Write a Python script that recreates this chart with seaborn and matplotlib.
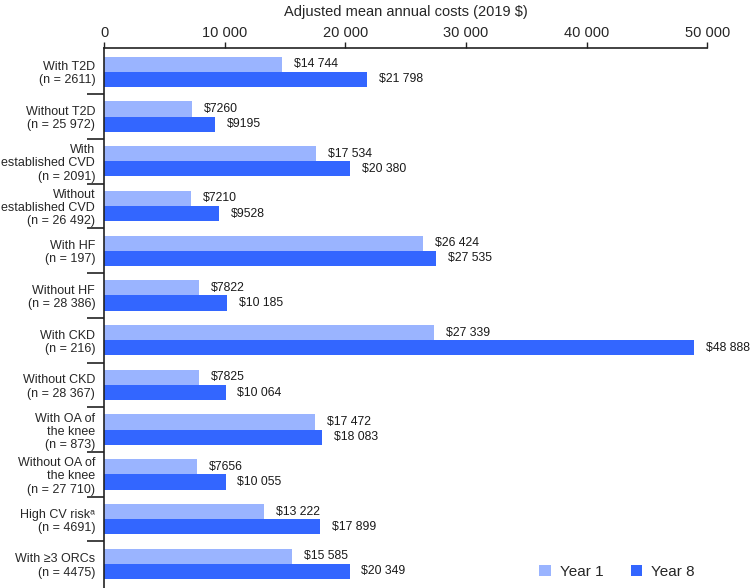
import matplotlib
matplotlib.use("Agg")
import matplotlib.pyplot as plt
import seaborn as sns
import pandas as pd
import numpy as np

categories = [
    "With T2D\n(n = 2611)",
    "Without T2D\n(n = 25 972)",
    "With\nestablished CVD\n(n = 2091)",
    "Without\nestablished CVD\n(n = 26 492)",
    "With HF\n(n = 197)",
    "Without HF\n(n = 28 386)",
    "With CKD\n(n = 216)",
    "Without CKD\n(n = 28 367)",
    "With OA of\nthe knee\n(n = 873)",
    "Without OA of\nthe knee\n(n = 27 710)",
    "High CV risk\u1d43\n(n = 4691)",
    "With \u22653 ORCs\n(n = 4475)",
]
year1 = [14744, 7260, 17534, 7210, 26424, 7822, 27339, 7825, 17472, 7656, 13222, 15585]
year8 = [21798, 9195, 20380, 9528, 27535, 10185, 48888, 10064, 18083, 10055, 17899, 20349]
series_names = ["Year 1", "Year 8"]
xticks = [0, 10000, 20000, 30000, 40000, 50000]
xlabel = "Adjusted mean annual costs (2019 \\$)"

colors = ["#9AB4FF", "#3366FF"]

sns.set_style("white")
plt.rcParams["font.family"] = ["Liberation Sans", "DejaVu Sans"]

df = pd.DataFrame({
    "category": categories * 2,
    "cost": year1 + year8,
    "year": [series_names[0]] * len(categories) + [series_names[1]] * len(categories),
})

fig = plt.figure(figsize=(7.5, 5.88), dpi=100)
ax = fig.add_axes([0.139, 0.0, 0.804, 0.919])

sns.barplot(data=df, y="category", x="cost", hue="year", orient="h",
            palette=colors, width=0.68, dodge=True, ax=ax,
            saturation=1, edgecolor="none", errorbar=None)

def fmt(v):
    n = int(round(v))
    s = f"{n:,}"
    s = s.replace(",", " ") if n >= 10000 else s.replace(",", "")
    return "\\$" + s

for cont in ax.containers:
    vals = [b.get_width() for b in cont]
    ax.bar_label(cont, labels=[fmt(v) for v in vals], padding=8.5, fontsize=8.8, color="#1a1a1a")

ax.set_xlim(0, 50000)
ax.set_ylim(len(categories) - 0.46, -0.54)
ax.xaxis.tick_top()
ax.xaxis.set_label_position("top")
ax.set_xticks(xticks)
ax.set_xticklabels([f"{t:,}".replace(",", " ") for t in xticks], fontsize=10.5)
ax.set_xlabel(xlabel, fontsize=10.5, labelpad=7)
ax.set_ylabel("")
ax.tick_params(axis="x", direction="out", length=4, width=1, color="#222222", pad=1.5, top=True, bottom=False)

ax.set_yticks(range(len(categories)))
ax.set_yticklabels(categories, fontsize=9, linespacing=1.13)
ax.tick_params(axis="y", which="major", length=0, pad=6.5)
ax.set_yticks(np.arange(0.5, len(categories) - 1, 1.0), minor=True)
ax.tick_params(axis="y", which="minor", length=12, width=1.2, color="#222222", left=True)

for sp in ["right", "bottom"]:
    ax.spines[sp].set_visible(False)
for sp in ["left", "top"]:
    ax.spines[sp].set_color("#222222")
    ax.spines[sp].set_linewidth(1.2)

leg = ax.legend(loc="lower right", bbox_to_anchor=(0.995, 0.0), ncol=2, frameon=False,
                fontsize=11, handlelength=0.75, handleheight=0.75, columnspacing=1.8,
                handletextpad=0.6, borderaxespad=0.2)
for h in leg.legend_handles:
    h.set_edgecolor("none")

fig.savefig("out.png", dpi=100)
